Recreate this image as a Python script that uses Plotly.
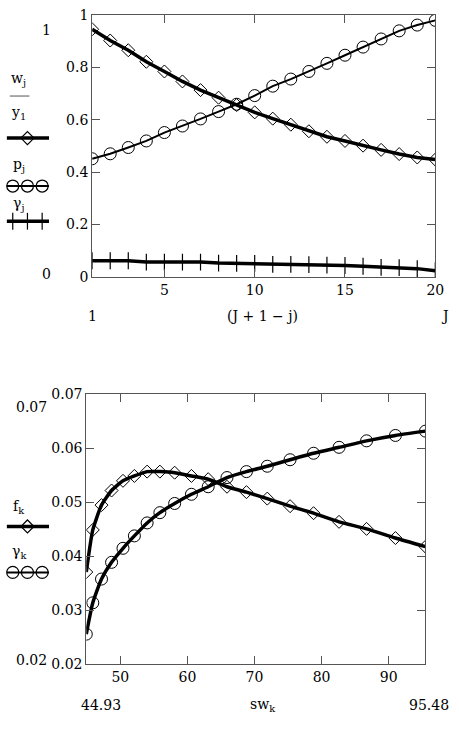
import plotly.graph_objects as go

# ---------------- data ----------------
j_idx = list(range(1, 21))
w_over_y = [0.945, 0.902, 0.865, 0.821, 0.784, 0.746, 0.713, 0.684, 0.656, 0.628,
            0.604, 0.581, 0.556, 0.535, 0.519, 0.501, 0.485, 0.469, 0.456, 0.448]
p_j = [0.451, 0.470, 0.494, 0.519, 0.551, 0.576, 0.603, 0.631, 0.659, 0.692,
       0.728, 0.755, 0.784, 0.815, 0.846, 0.877, 0.908, 0.939, 0.961, 0.979]
gamma_j = [0.062, 0.062, 0.062, 0.057, 0.057, 0.057, 0.057, 0.053, 0.052, 0.052,
           0.048, 0.048, 0.047, 0.045, 0.044, 0.041, 0.037, 0.036, 0.032, 0.024]

sw_k = [44.93, 45.9, 47.2, 48.7, 50.4, 52.1, 54.0, 55.9, 58.1, 60.6,
        63.1, 65.9, 68.8, 71.9, 75.3, 78.8, 82.6, 86.7, 91.0, 95.48]
f_k = [0.0371, 0.0449, 0.0495, 0.0522, 0.0540, 0.0549, 0.0557, 0.0557, 0.0555, 0.0549,
       0.0543, 0.0529, 0.0519, 0.0507, 0.0493, 0.0480, 0.0464, 0.0451, 0.0434, 0.0418]
gamma_k = [0.0256, 0.0314, 0.0358, 0.0389, 0.0415, 0.0438, 0.0462, 0.0481, 0.0498, 0.0515,
           0.0529, 0.0546, 0.0557, 0.0567, 0.0579, 0.0591, 0.0602, 0.0614, 0.0624, 0.0632]

top_xticks = [5, 10, 15, 20]
top_yticks = [0, 0.2, 0.4, 0.6, 0.8, 1]
bot_xticks = [50, 60, 70, 80, 90]
bot_yticks = [0.02, 0.03, 0.04, 0.05, 0.06, 0.07]

# ---------------- layout helpers ----------------
W, H = 459, 735
FONT = "DejaVu Serif"
FS = 14


def px(x):
    return x / W


def py(y):
    return 1 - y / H


fig = go.Figure()

# top plot
fig.add_trace(go.Scatter(x=j_idx, y=w_over_y, mode="lines+markers",
                         line=dict(color="black", width=3.5),
                         marker=dict(symbol="diamond-open", size=10, color="black", line=dict(width=1)),
                         xaxis="x", yaxis="y", showlegend=False))
fig.add_trace(go.Scatter(x=j_idx, y=p_j, mode="lines+markers",
                         line=dict(color="black", width=2),
                         marker=dict(symbol="circle-open", size=12, color="black", line=dict(width=1)),
                         xaxis="x", yaxis="y", showlegend=False))
fig.add_trace(go.Scatter(x=j_idx, y=gamma_j, mode="lines+markers",
                         line=dict(color="black", width=3.5),
                         marker=dict(symbol="line-ns-open", size=12, color="black", line=dict(width=1.2)),
                         xaxis="x", yaxis="y", showlegend=False))

# bottom plot
fig.add_trace(go.Scatter(x=sw_k, y=f_k, mode="lines+markers",
                         line=dict(color="black", width=3.5, shape="spline", smoothing=0.5),
                         marker=dict(symbol="diamond-open", size=10, color="black", line=dict(width=1)),
                         xaxis="x2", yaxis="y2", showlegend=False))
fig.add_trace(go.Scatter(x=sw_k, y=gamma_k, mode="lines+markers",
                         line=dict(color="black", width=3.5, shape="spline", smoothing=0.5),
                         marker=dict(symbol="circle-open", size=12, color="black", line=dict(width=1)),
                         xaxis="x2", yaxis="y2", showlegend=False))

# legend glyphs on an overlay pixel-space axis
leg_glyphs = [
    (133, "diamond-open", 3.5, 10),
    (182, "circle-open", 2, 12),
    (218, "line-ns-open", 3.5, 12),
    (530, "diamond-open", 3.5, 10),
    (577, "circle-open", 2, 12),
]
for yy, sym, lw, ms in leg_glyphs:
    fig.add_trace(go.Scatter(x=[7, 50], y=[yy, yy], mode="lines", line=dict(color="black", width=lw),
                             xaxis="x3", yaxis="y3", showlegend=False, hoverinfo="skip"))
    if sym == "diamond-open":
        mx = [28]
    else:
        mx = [13, 28, 43]
    fig.add_trace(go.Scatter(x=mx, y=[yy] * len(mx), mode="markers",
                             marker=dict(symbol=sym, size=ms, color="black", line=dict(width=1.2)),
                             xaxis="x3", yaxis="y3", showlegend=False, hoverinfo="skip"))

axis_common = dict(showline=True, linecolor="#555", linewidth=1, mirror="ticks",
                   ticks="inside", ticklen=8, tickcolor="#555", tickwidth=1,
                   showgrid=False, zeroline=False,
                   tickfont=dict(family=FONT, size=FS, color="black"))

fig.update_layout(
    width=W, height=H,
    margin=dict(l=0, r=0, t=0, b=0),
    font=dict(family=FONT, size=FS, color="black"),
    paper_bgcolor="white", plot_bgcolor="rgba(0,0,0,0)",
    xaxis=dict(domain=[px(94), px(444)], range=[1, 20], tickvals=top_xticks, anchor="y", **axis_common),
    yaxis=dict(domain=[py(275), py(7)], range=[0, 1], tickvals=top_yticks,
               ticktext=["0", "0.2", "0.4", "0.6", "0.8", "1"], anchor="x", **axis_common),
    xaxis2=dict(domain=[px(88), px(434)], range=[44.93, 95.48], tickvals=bot_xticks, anchor="y2", **axis_common),
    yaxis2=dict(domain=[py(671), py(395)], range=[0.02, 0.07], tickvals=bot_yticks,
                ticktext=["0.02", "0.03", "0.04", "0.05", "0.06", "0.07"], anchor="x2", **axis_common),
    xaxis3=dict(domain=[0, 1], range=[0, W], visible=False, anchor="y3", fixedrange=True),
    yaxis3=dict(domain=[0, 1], range=[H, 0], visible=False, anchor="x3", fixedrange=True),
)

ann = [
    # top plot extras
    (47, 22, "1"),
    (47, 272, "0"),
    (94, 315, "1"),
    (268, 315, "(J + 1 − j)"),
    (454, 315, "J"),
    (19, 73, "w<sub>j</sub>"),
    (19, 107, "y<sub>1</sub>"),
    (19, 161, "p<sub>j</sub>"),
    (19, 200, "γ<sub>j</sub>"),
    # bottom plot extras
    (32, 408, "0.07"),
    (32, 666, "0.02"),
    (103, 713, "44.93"),
    (268, 713, "sw<sub>k</sub>"),
    (438, 713, "95.48"),
    (19, 510, "f<sub>k</sub>"),
    (19, 556, "γ<sub>k</sub>"),
]
for x, y, t in ann:
    fig.add_annotation(x=px(x), y=py(y), xref="paper", yref="paper", text=t, showarrow=False,
                       xanchor="center", yanchor="middle", font=dict(family=FONT, size=FS, color="black"))

# fraction bar
fig.add_shape(type="line", xref="paper", yref="paper", x0=px(10), x1=px(30), y0=py(90), y1=py(90),
              line=dict(color="#555", width=1))

fig.write_html("out.html")
